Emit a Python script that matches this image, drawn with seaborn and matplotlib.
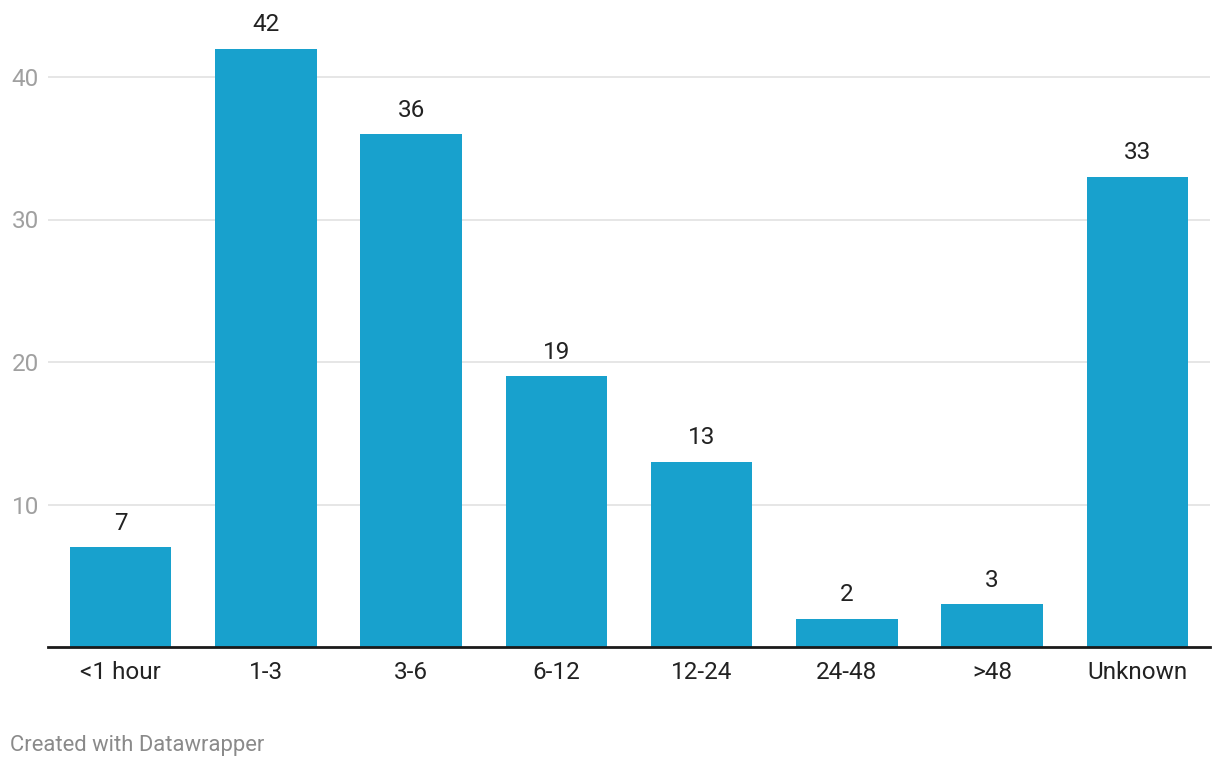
import matplotlib
matplotlib.use("Agg")
import matplotlib.pyplot as plt
import seaborn as sns
import pandas as pd

categories = ["<1 hour", "1-3", "3-6", "6-12", "12-24", "24-48", ">48", "Unknown"]
values = [7, 42, 36, 19, 13, 2, 3, 33]
yticks = [10, 20, 30, 40]

sns.set_theme(style="white")
plt.rcParams['font.family'] = ['Roboto', 'DejaVu Sans']

df = pd.DataFrame({"cat": categories, "val": values})

fig = plt.figure(figsize=(12.2, 7.68), dpi=100)
ax = fig.add_axes([48/1220, (768-647)/768, (1210-48)/1220, (647-10)/768])

sns.barplot(data=df, x="cat", y="val", color="#18a1cd", saturation=1, width=0.70,
            linewidth=0, ax=ax, zorder=3)

ax.set_ylim(0, (647-10)/14.25)
ax.set_xlim(-0.5, 7.5)
ax.set_yticks(yticks)
ax.set_yticklabels([str(t) for t in yticks], color="#a0a0a0", fontsize=17.5)
for t in yticks:
    ax.axhline(t, color="#e2e2e2", lw=1.2, zorder=1)
ax.tick_params(axis="y", length=0, pad=6.5)
ax.tick_params(axis="x", length=0, pad=10, labelsize=17.5, labelcolor="#222222")
ax.set_xlabel("")
ax.set_ylabel("")
for s in ["top", "right", "left"]:
    ax.spines[s].set_visible(False)
ax.spines["bottom"].set_color("#1a1a1a")
ax.spines["bottom"].set_linewidth(2)
ax.spines["bottom"].set_zorder(5)

for i, v in enumerate(values):
    ax.annotate(str(v), (i, v), xytext=(0, 12.5), textcoords="offset points",
                ha="center", va="baseline", fontsize=17.5, color="#222222")

fig.text(10/1220, 1 - 745/768, "Created with Datawrapper", fontsize=15.8, color="#8a8a8a",
         ha="left", va="center")

fig.savefig("out.png", dpi=100)
